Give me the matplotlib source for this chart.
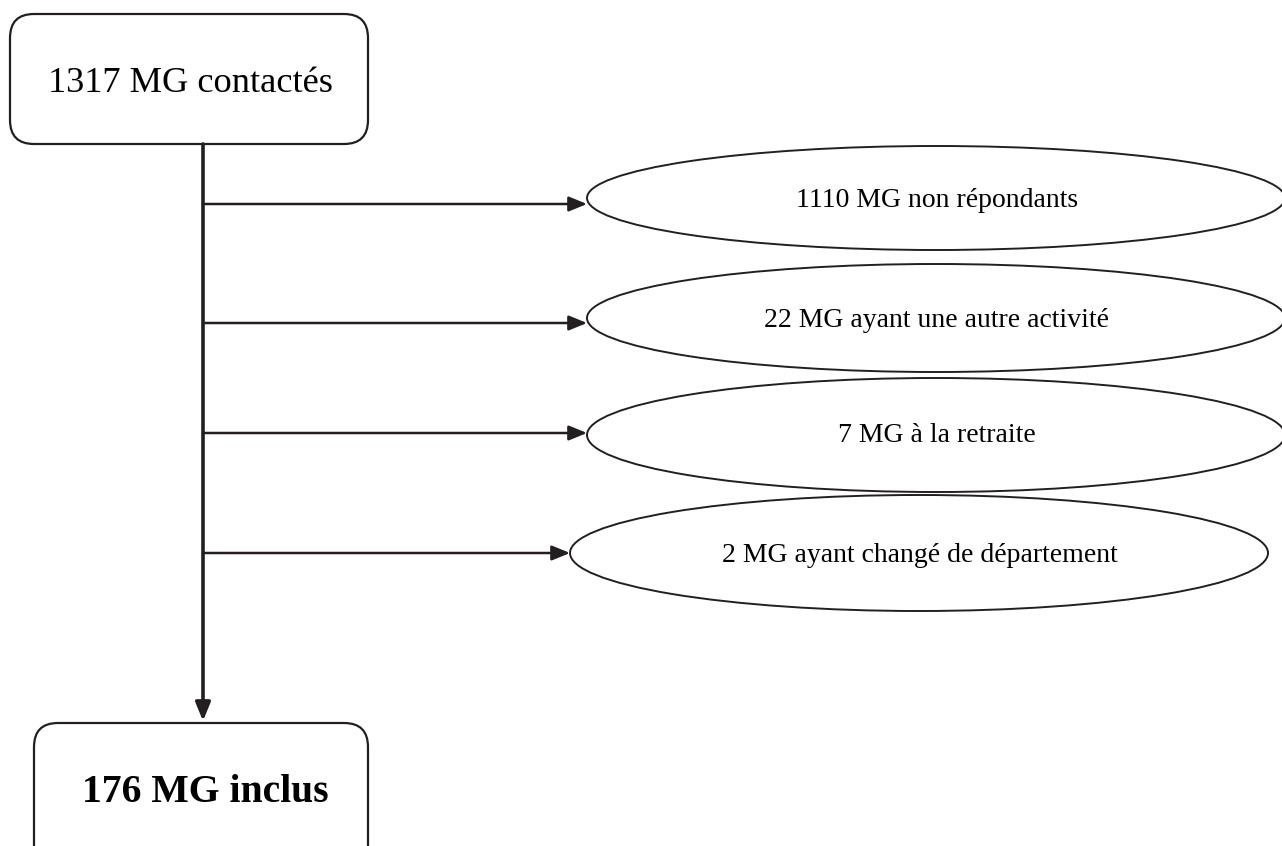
import matplotlib.pyplot as plt
from matplotlib.patches import FancyBboxPatch, Ellipse

plt.rcParams["font.family"] = ["Liberation Serif", "DejaVu Serif"]

# flowchart content
n_contacted = 1317
n_included = 176
excl_counts = [1110, 22, 7, 2]
excl_labels = ["MG non répondants", "MG ayant une autre activité",
               "MG à la retraite", "MG ayant changé de département"]

fig = plt.figure(figsize=(12.82, 8.46), dpi=100)
ax = fig.add_axes([0, 0, 1, 1])
ax.set_xlim(0, 1282)
ax.set_ylim(846, 0)
ax.axis('off')

ink = '#231f20'
head = '-|>,head_length=1.1,head_width=0.45'

# top box
top = FancyBboxPatch((10, 14), 358, 130, boxstyle="round,pad=0,rounding_size=24",
                     fc='white', ec=ink, lw=1.6)
ax.add_patch(top)
ax.text(190, 92, "%d MG contactés" % n_contacted, ha='center', va='baseline', fontsize=26.2)

# bottom box
bot = FancyBboxPatch((34, 723), 334, 150, boxstyle="round,pad=0,rounding_size=24",
                     fc='white', ec=ink, lw=1.6)
ax.add_patch(bot)
ax.text(205.5, 802, "%d MG inclus" % n_included, ha='center', va='baseline',
        fontsize=28.5, fontweight='bold')

# main vertical arrow
ax.annotate("", xy=(203, 721), xytext=(203, 144),
            arrowprops=dict(arrowstyle=head, lw=2.6, color=ink, shrinkA=0, shrinkB=0))

# exclusions
ell_y = [198, 318, 435, 553]
arr_y = [204, 323, 433, 553]
txt_y = [207, 327, 442, 562]
ell_x = [936, 936, 936, 919]
ell_h = [104, 108, 114, 116]
for i, (c, lab) in enumerate(zip(excl_counts, excl_labels)):
    left = ell_x[i] - 349
    ax.annotate("", xy=(left, arr_y[i]), xytext=(203, arr_y[i]),
                arrowprops=dict(arrowstyle=head, lw=1.8, color=ink, shrinkA=0, shrinkB=0))
    e = Ellipse((ell_x[i], ell_y[i]), 698, ell_h[i], fc='none', ec=ink, lw=1.4)
    ax.add_patch(e)
    ax.text(ell_x[i] + 1, txt_y[i], "%d %s" % (c, lab), ha='center', va='baseline',
            fontsize=20)

fig.savefig("out.png", dpi=100)
